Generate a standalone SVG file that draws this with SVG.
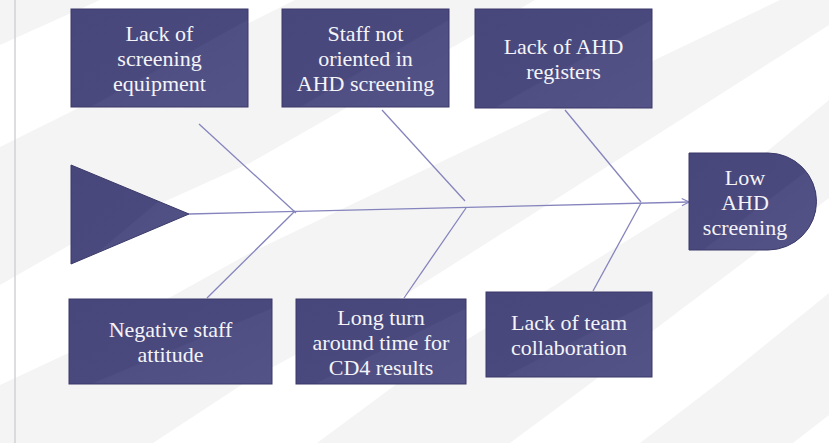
<svg xmlns="http://www.w3.org/2000/svg" width="829" height="443" viewBox="0 0 829 443">
  <defs>
    <style>
      .box { fill: url(#boxGrad); stroke: #3a3968; stroke-width: 1; }
      .lbl { font-family: "Liberation Serif", "Times New Roman", serif; font-size: 22px; fill: #f4f4f8; text-anchor: middle; }
      .bone { stroke: #8584bd; stroke-width: 1.3; fill: none; }
      .band { fill: #f4f4f5; }
    </style>
    <linearGradient id="boxGrad" x1="0" y1="0" x2="1" y2="1">
      <stop offset="0" stop-color="#48477b"/>
      <stop offset="0.55" stop-color="#4a497d"/>
      <stop offset="0.56" stop-color="#504f84"/>
      <stop offset="1" stop-color="#545388"/>
    </linearGradient>
    <marker id="arrow" viewBox="0 0 10 10" refX="9" refY="5" markerWidth="9" markerHeight="9" markerUnits="userSpaceOnUse" orient="auto">
      <path d="M1,1 L9,5 L1,9" fill="none" stroke="#8584bd" stroke-width="1.3"/>
    </marker>
  </defs>

  <rect x="0" y="0" width="829" height="443" fill="#ffffff"/>
  <g id="background">
    <polygon class="band" points="0,0 100,0 0,45"/>
    <polygon class="band" points="0,147 295,0 535,0 250,163 75,242 0,285"/>
    <polygon class="band" points="0,385 75,350 250,253 550,110 780,0 829,0 829,25 550,203 397,300 249,380 153,443 0,443"/>
    <polygon class="band" points="317,443 402,380 757,160 829,100 829,198 760,250 650,333 595,380 510,443"/>
    <polygon class="band" points="640,443 722,380 829,293 829,415 793,443"/>
    <line x1="15" y1="0" x2="15" y2="443" stroke="#d2d2d4" stroke-width="1.5"/>
  </g>

  <g id="connectors">
    <line class="bone" x1="189" y1="214" x2="689" y2="202" marker-end="url(#arrow)"/>
    <line class="bone" x1="199" y1="124" x2="296" y2="213"/>
    <line class="bone" x1="382" y1="110" x2="465" y2="201"/>
    <line class="bone" x1="565" y1="110" x2="641" y2="202"/>
    <line class="bone" x1="295" y1="211" x2="207" y2="298"/>
    <line class="bone" x1="466" y1="208" x2="404" y2="298"/>
    <line class="bone" x1="641" y1="203" x2="593" y2="291"/>
  </g>

  <g id="head">
    <polygon class="box" points="71,165 189,214 71,264"/>
  </g>

  <g id="n1">
    <rect class="box" x="71" y="9" width="177" height="98"/>
    <text class="lbl" x="159.5" y="41">Lack of</text>
    <text class="lbl" x="159.5" y="66">screening</text>
    <text class="lbl" x="159.5" y="91">equipment</text>
  </g>

  <g id="n2">
    <rect class="box" x="282" y="9" width="167" height="98"/>
    <text class="lbl" x="365.5" y="41">Staff not</text>
    <text class="lbl" x="365.5" y="66">oriented in</text>
    <text class="lbl" x="365.5" y="91">AHD screening</text>
  </g>

  <g id="n3">
    <rect class="box" x="475" y="9" width="177" height="99"/>
    <text class="lbl" x="563.5" y="54">Lack of AHD</text>
    <text class="lbl" x="563.5" y="79">registers</text>
  </g>

  <g id="n4">
    <rect class="box" x="69" y="299" width="203" height="85"/>
    <text class="lbl" x="170.5" y="337">Negative staff</text>
    <text class="lbl" x="170.5" y="362">attitude</text>
  </g>

  <g id="n5">
    <rect class="box" x="296" y="299" width="170" height="85"/>
    <text class="lbl" x="381" y="325">Long turn</text>
    <text class="lbl" x="381" y="350">around time for</text>
    <text class="lbl" x="381" y="375">CD4 results</text>
  </g>

  <g id="n6">
    <rect class="box" x="486" y="292" width="166" height="85"/>
    <text class="lbl" x="569" y="330">Lack of team</text>
    <text class="lbl" x="569" y="355">collaboration</text>
  </g>

  <g id="result">
    <path class="box" d="M689,153 H768 A48.5,48.5 0 0 1 768,250 H689 Z"/>
    <text class="lbl" x="745" y="185">Low</text>
    <text class="lbl" x="745" y="210">AHD</text>
    <text class="lbl" x="745" y="235">screening</text>
  </g>
</svg>
